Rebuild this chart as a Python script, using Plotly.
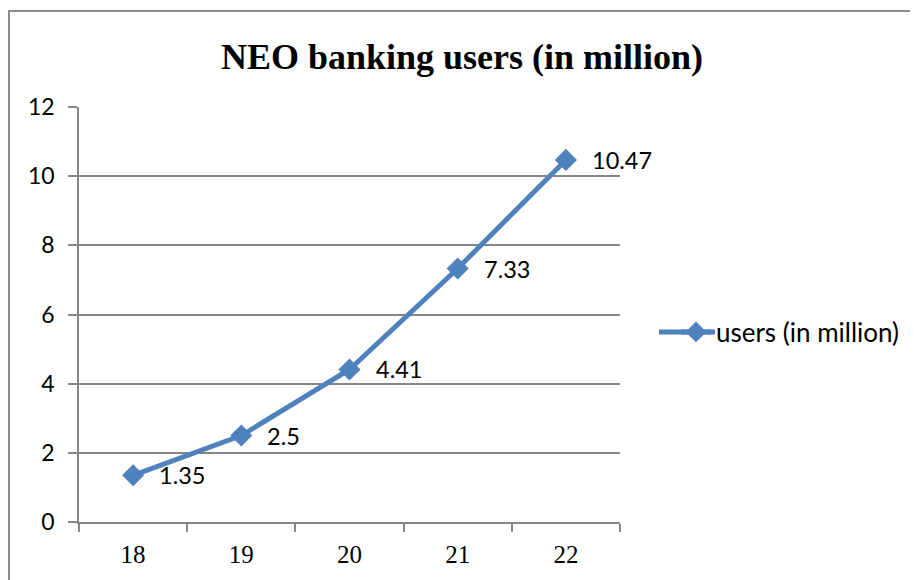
import plotly.graph_objects as go

categories = ["18", "19", "20", "21", "22"]
users = [1.35, 2.5, 4.41, 7.33, 10.47]
series_name = "users (in million)"
title_text = "NEO banking users (in million)"
y_ticks = [0, 2, 4, 6, 8, 10, 12]

OFF = 8  # page body margin
W, H = 918 - OFF, 580 - OFF
L, R, T, B = 79 - OFF, 298, 107 - OFF, 58
PW, PH = W - L - R, H - T - B

def px_x(p):
    return (p - OFF - L) / PW

def px_y(p):
    return (H - B - (p - OFF)) / PH

blue = "#4F81BD"
gray = "#868686"

fig = go.Figure()
fig.add_trace(go.Scatter(
    x=categories, y=users, mode="lines+markers", name=series_name,
    line=dict(color=blue, width=5),
    marker=dict(symbol="diamond", size=17, color=blue),
    cliponaxis=False,
))

for i, v in enumerate(users):
    fig.add_annotation(x=i, y=v, text=str(v), showarrow=False,
                       xanchor="left", yanchor="middle", xshift=24, yshift=0,
                       font=dict(family="Lato", size=23.5, color="#000000"))

fig.add_shape(type="rect", xref="paper", yref="paper",
              x0=px_x(9), x1=px_x(940), y0=px_y(600), y1=px_y(11),
              line=dict(color="#8c8c8c", width=2), fillcolor="rgba(0,0,0,0)", layer="below")

# extend legend key line (Excel-style longer legend key)
fig.add_shape(type="line", xref="paper", yref="paper",
              x0=px_x(659), x1=px_x(715), y0=px_y(332), y1=px_y(332),
              line=dict(color=blue, width=5))

fig.update_layout(
    width=W, height=H,
    margin=dict(l=L, r=R, t=T, b=B),
    paper_bgcolor="white", plot_bgcolor="white",
    title=dict(text="<b>" + title_text + "</b>", x=px_x(462), xref="paper", xanchor="center",
               y=1 - (56 - OFF) / H, yref="container", yanchor="middle",
               font=dict(family="Liberation Serif", size=36, color="#000000")),
    showlegend=True,
    legend=dict(x=px_x(676), xanchor="left", y=px_y(332), yanchor="middle",
                font=dict(family="Lato", size=26, color="#000000"),
                bgcolor="rgba(0,0,0,0)", borderwidth=0),
    xaxis=dict(type="category", range=[-0.5, 4.5], showline=True, linecolor=gray, linewidth=1.5,
               ticks="outside", tickson="boundaries", ticklen=8, tickwidth=1.5, tickcolor=gray,
               showgrid=False, zeroline=False, ticklabelstandoff=9,
               tickfont=dict(family="Liberation Serif", size=25, color="#000000")),
    yaxis=dict(range=[0, 12], tickvals=y_ticks, showline=True, linecolor=gray, linewidth=1.5,
               ticks="outside", ticklen=9, tickwidth=1.5, tickcolor=gray,
               showgrid=True, gridcolor=gray, gridwidth=1.5, zeroline=False,
               ticklabelstandoff=9,
               tickfont=dict(family="Lato", size=23, color="#000000")),
)

fig.write_html("out.html")
